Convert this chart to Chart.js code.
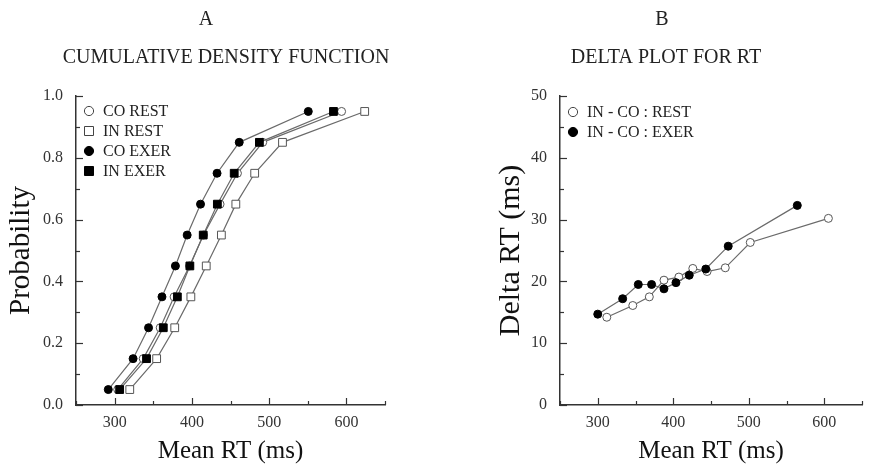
<!DOCTYPE html>
<html>
<head>
<meta charset="utf-8">
<script src="https://cdn.jsdelivr.net/npm/chart.js@4.4.0/dist/chart.umd.min.js"></script>
<style>
  body { margin: 0; background: #fff; }
  #wrap { position: relative; width: 870px; height: 475px; }
  canvas { position: absolute; left: 0; top: 0; }
</style>
</head>
<body>
<div id="wrap">
  <canvas id="cdf" width="870" height="475"></canvas>
  <canvas id="delta" width="870" height="475"></canvas>
</div>
<script>
// ---- data ----
const probs = [0.05, 0.15, 0.25, 0.35, 0.45, 0.55, 0.65, 0.75, 0.85, 0.95];
const coRest = [304, 337, 359, 377, 397, 415, 436.5, 459, 491.7, 593.8];
const inRest = [319.6, 354.4, 377.8, 398.7, 418.6, 438.2, 456.9, 481.3, 517.3, 623.7];
const coExer = [291.8, 323.9, 343.9, 361.3, 378.7, 393.9, 411.2, 432.6, 461.3, 550.7];
const inExer = [306.5, 341.3, 363, 381.2, 397.4, 414.7, 433, 454.8, 487.4, 583.3];

const restMeanRT = [312, 346.4, 368.3, 387.7, 407.4, 425.9, 444.8, 468.9, 502, 605.5];
const restDelta = [14.2, 16.1, 17.5, 20.2, 20.7, 22.1, 21.6, 22.2, 26.3, 30.2];
const exerMeanRT = [300, 333, 353.7, 371.3, 387.7, 403.6, 421.2, 443.1, 472.8, 564.3];
const exerDelta = [14.7, 17.2, 19.5, 19.5, 18.8, 19.8, 21.0, 22.0, 25.7, 32.3];

const rtTicks = [300, 400, 500, 600];
const probTicks = [0, 0.2, 0.4, 0.6, 0.8, 1.0];
const deltaTicks = [0, 10, 20, 30, 40, 50];

const FONT = "'Liberation Serif', 'Times New Roman', serif";
const LINE = '#6a6a6a';

function pts(xs, ys) {
    return xs.map((x, i) => ({ x: x, y: ys[i] }));
}

function series(label, data, style, filled, order) {
    return {
        label: label,
        data: data,
        borderColor: LINE,
        borderWidth: 1.2,
        tension: 0,
        pointStyle: style,
        pointRadius: style === 'rect' ? 5.5 : 4,
        pointBackgroundColor: filled ? '#000' : '#fff',
        pointBorderColor: filled ? '#000' : '#555',
        pointBorderWidth: 1,
        order: order
    };
}

function drawMarker(ctx, style, filled, x, y) {
    ctx.save();
    ctx.beginPath();
    if (style === 'rect') ctx.rect(x - 4.5, y - 4.5, 9, 9);
    else ctx.arc(x, y, 4.6, 0, Math.PI * 2);
    ctx.fillStyle = filled ? '#000' : '#fff';
    ctx.fill();
    ctx.lineWidth = 1;
    ctx.strokeStyle = filled ? '#000' : '#444';
    ctx.stroke();
    ctx.restore();
}

// inward tick marks, taken from the scales' own ticks
const innerTicks = {
    id: 'innerTicks',
    beforeDatasetsDraw(chart) {
        const ctx = chart.ctx;
        const area = chart.chartArea;
        ctx.save();
        ctx.strokeStyle = '#333';
        ctx.lineWidth = 1.2;
        chart.scales.x.ticks.forEach(t => {
            const px = Math.round(chart.scales.x.getPixelForValue(t.value)) + 0.5;
            const len = t.label !== '' ? 7 : 4;
            ctx.beginPath();
            ctx.moveTo(px, area.bottom);
            ctx.lineTo(px, area.bottom - len);
            ctx.stroke();
        });
        chart.scales.y.ticks.forEach(t => {
            const py = Math.round(chart.scales.y.getPixelForValue(t.value)) + 0.5;
            const len = t.label !== '' ? 7 : 4;
            ctx.beginPath();
            ctx.moveTo(area.left, py);
            ctx.lineTo(area.left + len, py);
            ctx.stroke();
        });
        ctx.restore();
    }
};

// panel letter, panel title and the legend
const panelText = {
    id: 'panelText',
    afterDraw(chart, args, opts) {
        const ctx = chart.ctx;
        ctx.save();
        ctx.fillStyle = '#222';
        ctx.textAlign = 'center';
        ctx.textBaseline = 'middle';
        ctx.font = '20px ' + FONT;
        ctx.fillText(opts.letter, opts.letterX, 20);
        ctx.fillText(opts.title, opts.titleX, 58);
        ctx.textAlign = 'left';
        ctx.font = '16px ' + FONT;
        opts.legend.forEach((item, i) => {
            const y = opts.legendY + i * 20;
            drawMarker(ctx, item.style, item.filled, opts.legendX, y);
            ctx.fillStyle = '#222';
            ctx.fillText(item.label, opts.legendX + 14, y + 1);
        });
        ctx.restore();
    }
};

function axis(min, max, step, majors, fmt, title, titleSize, width, titlePad, isX, labelPad) {
    return {
        type: 'linear',
        min: min,
        max: max,
        afterFit: s => { if (isX) s.height = 70; else s.width = width; },
        grid: { display: true, drawOnChartArea: false, drawTicks: false, tickLength: 0 },
        border: { display: true, color: '#333', width: 1.5 },
        ticks: {
            stepSize: step,
            autoSkip: false,
            maxRotation: 0,
            padding: labelPad,
            color: '#333',
            font: { family: FONT, size: 16 },
            callback: v => majors.some(m => Math.abs(m - v) < 1e-6) ? fmt(v) : ''
        },
        title: {
            display: true,
            text: title,
            color: '#111',
            font: { family: FONT, size: titleSize },
            padding: titlePad
        }
    };
}

Chart.defaults.font.family = FONT;

new Chart(document.getElementById('cdf'), {
    type: 'line',
    data: {
        datasets: [
            series('CO REST', pts(coRest, probs), 'circle', false, 2),
            series('IN REST', pts(inRest, probs), 'rect', false, 3),
            series('CO EXER', pts(coExer, probs), 'circle', true, 1),
            series('IN EXER', pts(inExer, probs), 'rect', true, 0)
        ]
    },
    options: {
        responsive: false,
        animation: false,
        layout: { autoPadding: false, padding: { left: 0, top: 96, right: 485, bottom: 0 } },
        plugins: {
            legend: { display: false },
            tooltip: { enabled: false },
            panelText: {
                letter: 'A', letterX: 206,
                title: 'CUMULATIVE DENSITY FUNCTION', titleX: 226,
                legendX: 89, legendY: 111,
                legend: [
                    { label: 'CO REST', style: 'circle', filled: false },
                    { label: 'IN REST', style: 'rect', filled: false },
                    { label: 'CO EXER', style: 'circle', filled: true },
                    { label: 'IN EXER', style: 'rect', filled: true }
                ]
            }
        },
        scales: {
            x: axis(250, 650, 50, rtTicks, v => String(v), 'Mean RT (ms)', 25, 0, { top: 0, bottom: 9 }, true, 8),
            y: axis(0, 1, 0.1, probTicks, v => v.toFixed(1), 'Probability', 29, 76, { top: 4, bottom: 0 }, false, 13)
        }
    },
    plugins: [innerTicks, panelText]
});

new Chart(document.getElementById('delta'), {
    type: 'line',
    data: {
        datasets: [
            series('IN - CO : REST', pts(restMeanRT, restDelta), 'circle', false, 1),
            series('IN - CO : EXER', pts(exerMeanRT, exerDelta), 'circle', true, 0)
        ]
    },
    options: {
        responsive: false,
        animation: false,
        layout: { autoPadding: false, padding: { left: 490, top: 96, right: 1, bottom: 0 } },
        plugins: {
            legend: { display: false },
            tooltip: { enabled: false },
            panelText: {
                letter: 'B', letterX: 662,
                title: 'DELTA PLOT FOR RT', titleX: 666,
                legendX: 573, legendY: 112,
                legend: [
                    { label: 'IN - CO : REST', style: 'circle', filled: false },
                    { label: 'IN - CO : EXER', style: 'circle', filled: true }
                ]
            }
        },
        scales: {
            x: axis(250, 650, 50, rtTicks, v => String(v), 'Mean RT (ms)', 25, 0, { top: 0, bottom: 9 }, true, 8),
            y: axis(0, 50, 5, deltaTicks, v => String(v), 'Delta RT (ms)', 30, 70, { top: 3, bottom: 0 }, false, 13)
        }
    },
    plugins: [innerTicks, panelText]
});
</script>
</body>
</html>
